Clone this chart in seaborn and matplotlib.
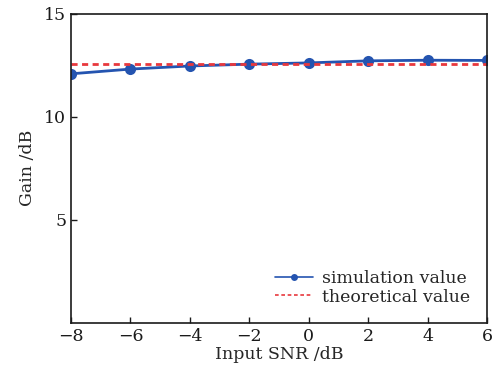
import matplotlib
matplotlib.use("Agg")
import matplotlib.pyplot as plt
import seaborn as sns
import pandas as pd

# values
snr = [-8, -6, -4, -2, 0, 2, 4, 6]
sim_gain = [12.09, 12.32, 12.47, 12.56, 12.62, 12.72, 12.75, 12.74]
theory_gain = [12.57] * len(snr)

sns.set_theme(style="ticks")
plt.rcParams["font.family"] = ["DejaVu Serif"]
plt.rcParams["mathtext.fontset"] = "dejavuserif"

df = pd.DataFrame({"snr": snr, "sim": sim_gain, "theory": theory_gain})

fig = plt.figure(figsize=(4.93, 3.75), dpi=100)
ax = fig.add_axes([0.144, 0.139, 0.844, 0.824])

sns.lineplot(data=df, x="snr", y="sim", ax=ax, color="#2454b0", lw=2,
             marker="o", markersize=8, markeredgewidth=0, label="simulation value")
sns.lineplot(data=df, x="snr", y="theory", ax=ax, color="#e8383d", lw=2,
             linestyle=(0, (2.2, 1.6)), label="theoretical value")

ax.set_xlim(-8, 6)
ax.set_ylim(0, 15)
ax.set_xticks(snr)
ax.set_xticklabels(["\u22128", "\u22126", "\u22124", "\u22122", "0", "2", "4", "6"])
ax.set_yticks([5, 10, 15])
ax.tick_params(direction="in", length=4, width=1, labelsize=12.5, colors="#1a1a1a")
for s in ax.spines.values():
    s.set_linewidth(1.2)
    s.set_color("#1a1a1a")
ax.set_xlabel("Input SNR /dB", fontsize=12.5, labelpad=1)
ax.set_ylabel("Gain /dB", fontsize=12.5, labelpad=6)

leg = ax.legend(loc="lower right", frameon=False, fontsize=12.5, handlelength=2.2,
                handletextpad=0.5, borderaxespad=0.6, labelspacing=0.1)
for line in leg.get_lines():
    line.set_linewidth(1.2)
    line.set_markersize(5)

fig.savefig("out.png", dpi=100)
plt.close(fig)
